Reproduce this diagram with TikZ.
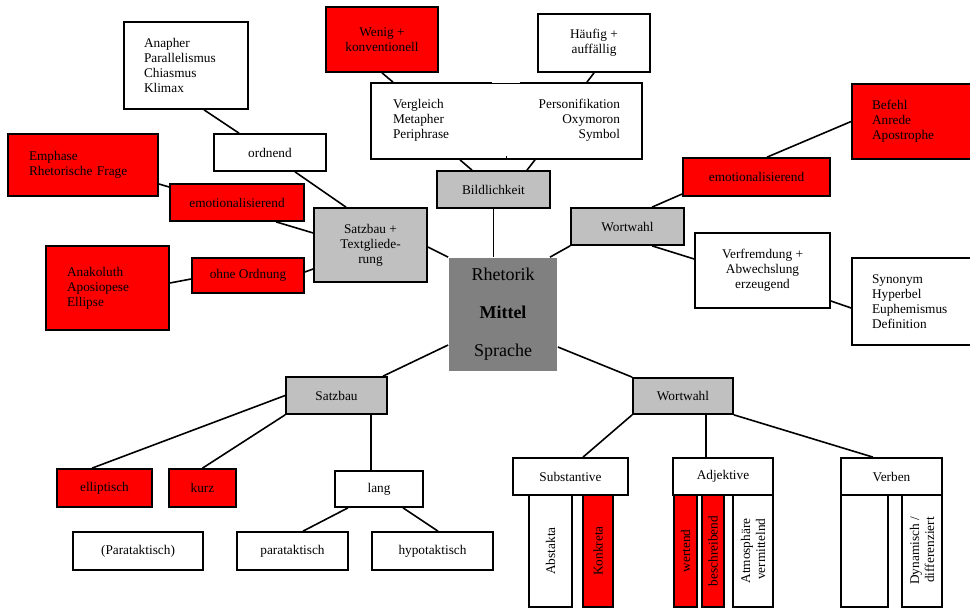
\documentclass[tikz,border=0pt]{standalone}
\usepackage{fontspec}
\setmainfont{Liberation Serif}
\usetikzlibrary{calc}
\definecolor{boxgray}{RGB}{192,192,192}
\definecolor{midgray}{RGB}{128,128,128}
\newcommand\mybox[7]{\node[#6, minimum width={(#4-#2)*1pt}, minimum height={(#5-#3)*1pt}] (#1) at ({(#2+#4)/2},{(#3+#5)/2}) {#7};}
\newcommand\myvbox[7]{\node[#6, rotate=90, minimum height={(#4-#2)*1pt}, minimum width={(#5-#3)*1pt}] (#1) at ({(#2+#4)/2},{(#3+#5)/2}) {#7};}
\begin{document}
\begin{tikzpicture}[x=1pt,y=-1pt,
  bx/.style={draw, line width=1.7pt, inner sep=0pt, align=center, font=\fontsize{13.3}{15}\selectfont},
  whitebox/.style={bx, fill=white},
  redbox/.style={bx, fill=red},
  graybox/.style={bx, fill=boxgray},
  lst/.style={align=left, text width=#1pt},
  rightal/.style={align=right},
  conn/.style={line width=1.6pt}]
\useasboundingbox (0,0) rectangle (970,609);
% top left
\mybox{anapher}{124}{22}{248}{109}{whitebox, lst=84}{Anapher\\Parallelismus\\Chiasmus\\Klimax}
\mybox{ordnend}{214}{134}{326}{171}{whitebox}{ordnend}
\mybox{emph}{8}{134}{158}{196}{redbox, lst=108}{Emphase\\Rhetorische Frage}
\mybox{emotL}{170}{184}{304}{221}{redbox}{emotionalisierend}
\mybox{anak}{46}{246}{169}{330}{redbox, lst=81}{Anakoluth\\Aposiopese\\Ellipse}
\mybox{ohne}{192}{258}{304}{293}{redbox}{ohne Ordnung}
\mybox{satzT}{314}{208}{427}{282}{graybox}{Satzbau +\\Textgliede-\\rung}
% top middle
\mybox{wenig}{326}{7}{438}{72}{redbox}{Wenig +\\konventionell}
\mybox{haeufig}{538}{14}{650}{72}{whitebox}{Häufig +\\auffällig}
\mybox{big}{371}{83}{642}{159}{whitebox}{\begin{tabular*}{227pt}{@{}l@{\extracolsep{\fill}}r@{}}Vergleich & Personifikation\\ Metapher & Oxymoron\\ Periphrase & Symbol\end{tabular*}}
\mybox{bild}{437}{171}{550}{208}{graybox}{Bildlichkeit}
% center
\mybox{rhet}{449}{258}{557}{371}{bx, draw=none, fill=midgray, font=\fontsize{18}{38}\selectfont}{Rhetorik\\\textbf{Mittel}\\Sprache}
% top right
\mybox{wt}{571}{208}{684}{245}{graybox}{Wortwahl}
\mybox{emotR}{683}{158}{830}{196}{redbox}{emotionalisierend}
\mybox{befehl}{852}{84}{990}{159}{redbox, lst=98}{Befehl\\Anrede\\Apostrophe}
\mybox{verf}{695}{233}{830}{308}{whitebox}{Verfremdung +\\Abwechslung\\erzeugend}
\mybox{syn}{852}{258}{990}{345}{whitebox, lst=98}{Synonym\\Hyperbel\\Euphemismus\\Definition}
% bottom left
\mybox{sb}{286}{377}{387}{414}{graybox}{Satzbau}
\mybox{ellip}{57}{469}{152}{507}{redbox}{elliptisch}
\mybox{kurz}{169}{469}{236}{507}{redbox}{kurz}
\mybox{lang}{335}{471}{423}{507}{whitebox}{lang}
\mybox{parenpara}{73}{532}{203}{570}{whitebox}{(Parataktisch)}
\mybox{para}{237}{532}{348}{570}{whitebox}{parataktisch}
\mybox{hypo}{372}{532}{493}{570}{whitebox}{hypotaktisch}
% bottom right
\mybox{wb}{633}{378}{733}{414}{graybox}{Wortwahl}
\mybox{subst}{513}{458}{628}{495}{whitebox}{Substantive}
\mybox{adj}{673}{458}{773}{495}{whitebox}{Adjektive}
\mybox{verben}{841}{458}{942}{495}{whitebox}{Verben}
\myvbox{abst}{529}{495}{572}{607}{whitebox}{Abstakta}
\myvbox{konk}{583}{495}{613}{607}{redbox}{Konkreta}
\myvbox{wert}{674}{495}{697}{607}{redbox}{wertend}
\myvbox{beschr}{702}{495}{724}{607}{redbox}{beschreibend}
\myvbox{atmo}{733}{495}{773}{607}{whitebox, rightal}{Atmosphäre\\vermittelnd}
\myvbox{vempty}{841}{495}{888}{607}{whitebox}{}
\myvbox{dyn}{902}{495}{942}{607}{whitebox, rightal}{Dynamisch /\\differenziert}
% gap and tick in big box
\draw[white, line width=2.4pt] ([xshift=-14.5pt]big.north) -- ([xshift=13.5pt]big.north);
\draw[line width=1.2pt] (big.south) -- ++(0,-4);
% connectors
\draw[conn] ([xshift=18pt]anapher.south) -- ([xshift=-31pt]ordnend.north);
\draw[conn] ([xshift=25pt]ordnend.south) -- ([xshift=-24.5pt]satzT.north);
\draw[conn] ([yshift=-19pt]emph.east) -- ([yshift=15.5pt]emotL.west);
\draw[conn] ([xshift=39pt]emotL.south) -- ([yshift=12pt]satzT.west);
\draw[conn] ([yshift=5pt]anak.east) -- ([yshift=-3.5pt]ohne.west);
\draw[conn] ([yshift=3.5pt]ohne.east) -- ([yshift=-24pt]satzT.west);
\draw[conn] ([yshift=-2pt]satzT.east) -- (rhet.north west);
\draw[conn] (wenig.south) -- ([xshift=-113.5pt]big.north);
\draw[conn] (haeufig.south) -- ([xshift=80.5pt]big.north);
\draw[conn] ([xshift=-46.5pt]big.south) -- ([xshift=-21.5pt]bild.north);
\draw[conn] ([xshift=28.5pt]big.south) -- ([xshift=33.5pt]bild.north);
\draw[conn] (bild.south) -- (bild.south |- rhet.north);
\draw[conn] ([xshift=24.5pt]wt.north) -- ([yshift=-17pt]emotR.west);
\draw[conn] ([xshift=10.5pt]emotR.north) -- (befehl.west);
\draw[conn] ([xshift=24.5pt]wt.south) -- ([yshift=11.5pt]verf.west);
\draw[conn] ([yshift=-30.5pt]verf.east) -- ([yshift=-6.5pt]syn.west);
\draw[conn] (wt.south west) -- ([xshift=47pt]rhet.north);
\draw[conn] ([yshift=-30.5pt]rhet.west) -- ([xshift=46.5pt]sb.north);
\draw[conn] ([yshift=-32.5pt]rhet.east) -- (wb.north west);
\draw[conn] (sb.west) -- ([xshift=-12.5pt]ellip.north);
\draw[conn] (sb.south west) -- (kurz.north);
\draw[conn] ([xshift=34.5pt]sb.south) -- ([xshift=34.5pt]sb.south |- lang.north);
\draw[conn] ([xshift=-31pt]lang.south) -- ([xshift=10.5pt]para.north);
\draw[conn] ([xshift=24pt]lang.south) -- ([xshift=5.5pt]hypo.north);
\draw[conn] (wb.south west) -- ([xshift=12.5pt]subst.north);
\draw[conn] ([xshift=23pt]wb.south) -- ([xshift=23pt]wb.south |- adj.north);
\draw[conn] (wb.south east) -- ([xshift=-18.5pt]verben.north);
\end{tikzpicture}
\end{document}
